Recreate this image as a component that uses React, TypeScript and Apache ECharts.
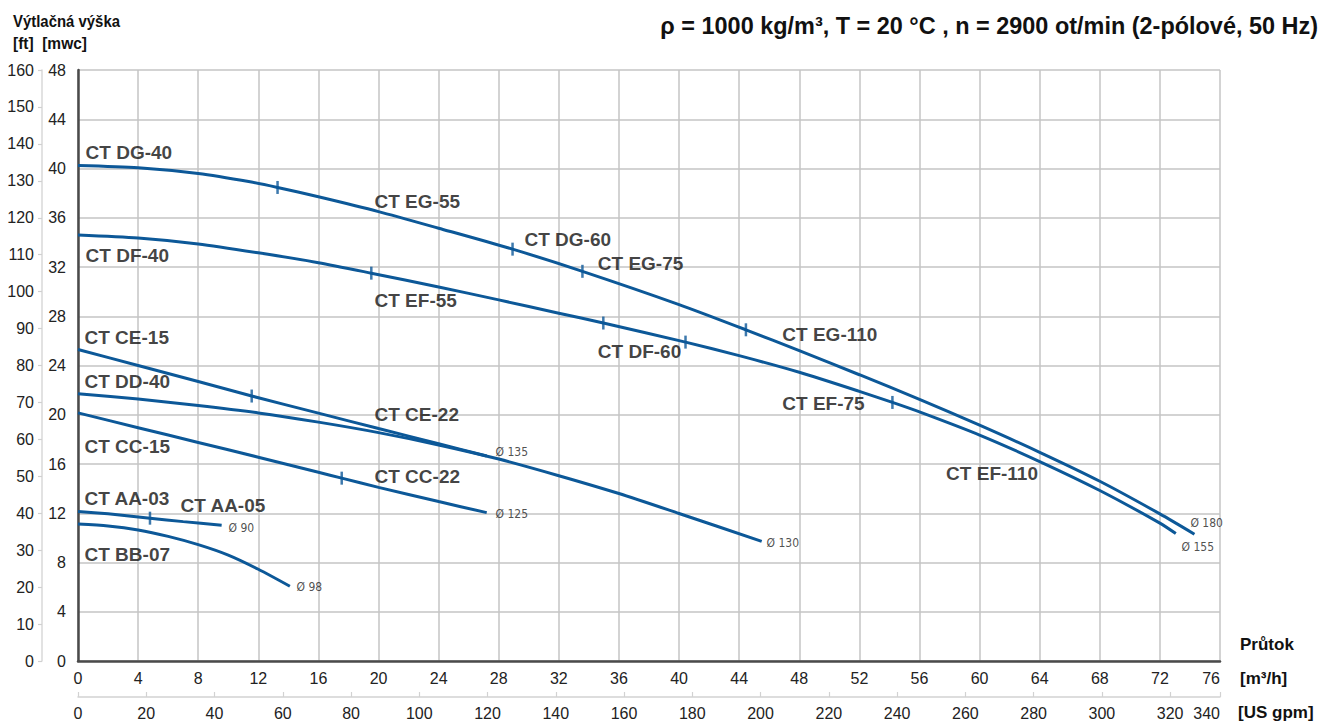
import React, { useEffect, useRef } from "react";
import * as echarts from "echarts";

// ---------- DATA (flow [m³/h], head [m]) ----------
const curveD180: [number, number][] = [
  [0, 40.25], [4, 40.07], [8, 39.6], [11.45, 38.92], [13.28, 38.46], [16, 37.7],
  [20, 36.5], [24, 35.15], [28.92, 33.45], [33.57, 31.65], [40, 28.95], [44.45, 26.9],
  [48, 25.2], [52, 23.25], [56, 21.25], [60, 19.15], [64, 16.95], [68, 14.6],
  [72, 11.95], [74.3, 10.3],
];
const curveD155: [number, number][] = [
  [0, 34.6], [4, 34.35], [8, 33.87], [12, 33.15], [16, 32.35], [19.52, 31.5],
  [24, 30.38], [28, 29.33], [32, 28.25], [34.96, 27.45], [40.43, 25.9], [44, 24.8],
  [48, 23.45], [52, 21.9], [54.2, 21.0], [56, 20.23], [60, 18.35], [64, 16.2],
  [68, 13.85], [72, 11.2], [73.06, 10.35],
];
const curveD135: [number, number][] = [
  [0, 25.3], [4, 24.0], [8, 22.7], [11.56, 21.52], [16, 20.13], [20, 18.88],
  [24, 17.65], [27.2, 16.65],
];
const curveD130: [number, number][] = [
  [0, 21.7], [4, 21.27], [8, 20.75], [12, 20.15], [16, 19.4], [20, 18.55],
  [24, 17.55], [28, 16.4], [32, 15.05], [36, 13.6], [40, 11.98], [45.5, 9.72],
];
const curveD125: [number, number][] = [
  [0, 20.15], [4, 18.95], [8, 17.75], [12, 16.55], [16, 15.33], [17.55, 14.85],
  [20, 14.1], [24, 12.95], [27.2, 12.05],
];
const curveD90: [number, number][] = [
  [0, 12.15], [2, 11.95], [4.79, 11.6], [7, 11.32], [9.56, 11.02],
];
const curveD98: [number, number][] = [
  [0, 11.12], [2, 10.96], [4, 10.64], [6, 10.12], [8, 9.45], [10, 8.6],
  [12, 7.45], [14.1, 6.07],
];

// model boundary marks on the curves
const boundaryTicks: [number, number][] = [
  [13.28, 38.46], [28.92, 33.45], [33.57, 31.65], [44.45, 26.9],
  [19.52, 31.5], [34.96, 27.45], [40.43, 25.9], [54.2, 21.0],
  [11.56, 21.52], [17.55, 14.85], [4.79, 11.6],
];

// model names, anchored at [flow, head] (left edge, middle of text)
const modelLabels: [string, number, number][] = [
  ["CT DG-40", 0.47, 41.26],
  ["CT EG-55", 19.7, 37.35],
  ["CT DG-60", 29.68, 34.27],
  ["CT EG-75", 34.56, 32.3],
  ["CT EG-110", 46.84, 26.53],
  ["CT DF-40", 0.47, 32.97],
  ["CT EF-55", 19.7, 29.24],
  ["CT DF-60", 34.56, 25.15],
  ["CT EF-75", 46.84, 20.93],
  ["CT EF-110", 57.74, 15.2],
  ["CT CE-15", 0.4, 26.26],
  ["CT DD-40", 0.4, 22.74],
  ["CT CE-22", 19.7, 19.98],
  ["CT CC-15", 0.4, 17.4],
  ["CT CC-22", 19.7, 14.97],
  ["CT AA-03", 0.4, 13.21],
  ["CT AA-05", 6.79, 12.59],
  ["CT BB-07", 0.4, 8.67],
];

// impeller diameters at curve ends
const diameterLabels: [string, number, number][] = [
  ["Ø 135", 27.75, 16.95],
  ["Ø 125", 27.75, 11.91],
  ["Ø 90", 9.98, 10.78],
  ["Ø 98", 14.51, 6.03],
  ["Ø 130", 45.79, 9.56],
  ["Ø 180", 74.0, 11.18],
  ["Ø 155", 73.41, 9.23],
];

const titleText = "ρ = 1000 kg/m³, T = 20 °C , n = 2900 ot/min (2-pólové, 50 Hz)";
const yTitle1 = "Výtlačná výška";
const yTitle2 = "[ft]  [mwc]";
const xTitle = "Průtok";
const xUnitM3h = "[m³/h]";
const xUnitGpm = "[US gpm]";

const FLOW_MAX = 76;
const HEAD_MAX = 48;
const FT_MAX = 160;
const GPM_PER_M3H = 4.4029;

// ---------- STYLE ----------
const BLUE = "#0c5898";
const FONT = "'Liberation Sans', Arial, sans-serif";
const NARROW = "'Liberation Sans Narrow', 'DejaVu Sans Condensed', 'Roboto Condensed', 'Liberation Sans', sans-serif";

function fitScale(text: string, font: string, target: number): number {
  const ctx = document.createElement("canvas").getContext("2d");
  if (!ctx) return 1;
  ctx.font = font;
  const w = ctx.measureText(text).width;
  return w > 0 ? target / w : 1;
}

export default function App() {
  const ref = useRef<HTMLDivElement>(null);

  useEffect(() => {
    if (!ref.current) return;
    const chart = echarts.init(ref.current, null, { renderer: "svg" });

    const titleScale = fitScale(titleText, "bold 24px 'Liberation Sans'", 658);
    const y1Scale = fitScale(yTitle1, "bold 17px 'Liberation Sans'", 107);
    const y2Scale = fitScale(yTitle2, "bold 17px 'Liberation Sans'", 74);

    const curves = [curveD180, curveD155, curveD135, curveD130, curveD125, curveD90, curveD98];

    const axisLabelStyle = { fontSize: 16, color: "#222", fontFamily: FONT };

    const option: any = {
      animation: false,
      backgroundColor: "#fff",
      textStyle: { fontFamily: FONT },
      grid: { left: 78, top: 70, width: 1142, height: 591, show: false },
      xAxis: [
        {
          type: "value",
          min: 0,
          max: FLOW_MAX,
          interval: 4,
          position: "bottom",
          axisLine: { show: true, onZero: false, lineStyle: { color: "#4a4a4a", width: 2.5 } },
          axisTick: { show: false },
          splitLine: { show: true, lineStyle: { color: "#c4c4c4", width: 1.5 } },
          axisLabel: { ...axisLabelStyle, margin: 9, alignMaxLabel: "right" },
        },
        {
          type: "value",
          min: 0,
          max: FLOW_MAX * GPM_PER_M3H,
          interval: 20,
          position: "bottom",
          offset: 36,
          axisLine: { show: true, onZero: false, lineStyle: { color: "#d2d2d2", width: 1.5 } },
          axisTick: { show: true, inside: true, length: 5, lineStyle: { color: "#d2d2d2", width: 1.2 } },
          splitLine: { show: false },
          axisLabel: {
            ...axisLabelStyle,
            margin: 8,
            alignMaxLabel: "right",
            formatter: (v: number) => (v > 330 ? "340" : String(v)),
          },
        },
      ],
      yAxis: [
        {
          type: "value",
          min: 0,
          max: HEAD_MAX,
          interval: 4,
          position: "left",
          axisLine: { show: true, onZero: false, lineStyle: { color: "#4a4a4a", width: 2.5 } },
          axisTick: { show: false },
          splitLine: { show: true, lineStyle: { color: "#c4c4c4", width: 1.5 } },
          axisLabel: { ...axisLabelStyle, margin: 12 },
        },
        {
          type: "value",
          min: 0,
          max: FT_MAX,
          interval: 10,
          position: "left",
          offset: 36,
          axisLine: { show: true, onZero: false, lineStyle: { color: "#d8d8d8", width: 1.5 } },
          axisTick: { show: true, length: 4, lineStyle: { color: "#d0d0d0", width: 1.2 } },
          splitLine: { show: false },
          axisLabel: { ...axisLabelStyle, margin: 8 },
        },
      ],
      series: [
        ...curves.map((c) => ({
          type: "line",
          data: c,
          xAxisIndex: 0,
          yAxisIndex: 0,
          showSymbol: false,
          symbol: "none",
          smooth: 0.25,
          silent: true,
          lineStyle: { color: BLUE, width: 3 },
          z: 3,
        })),
        {
          type: "scatter",
          data: boundaryTicks,
          xAxisIndex: 0,
          yAxisIndex: 0,
          symbol: "rect",
          symbolSize: [2.5, 13],
          itemStyle: { color: BLUE },
          silent: true,
          z: 4,
        },
        {
          type: "scatter",
          data: modelLabels.map(([n, q, h]) => ({ name: n, value: [q, h] })),
          xAxisIndex: 0,
          yAxisIndex: 0,
          symbolSize: 1,
          itemStyle: { color: "rgba(0,0,0,0)" },
          silent: true,
          label: {
            show: true,
            position: "right",
            distance: 0,
            formatter: "{b}",
            fontSize: 19,
            fontWeight: "bold",
            color: "#111",
            fontFamily: FONT,
          },
          z: 5,
        },
        {
          type: "scatter",
          data: diameterLabels.map(([n, q, h]) => ({ name: n, value: [q, h] })),
          xAxisIndex: 0,
          yAxisIndex: 0,
          symbolSize: 1,
          itemStyle: { color: "rgba(0,0,0,0)" },
          silent: true,
          label: {
            show: true,
            position: "right",
            distance: 0,
            formatter: "{b}",
            fontSize: 12,
            color: "#222",
            fontFamily: NARROW,
          },
          z: 5,
        },
      ],
      graphic: [
        {
          type: "text",
          x: 1318,
          y: 26,
          scaleX: titleScale,
          style: {
            text: titleText,
            fontSize: 24,
            fontWeight: "bold",
            fontFamily: "Liberation Sans",
            fill: "#111",
            align: "right",
            textAlign: "right",
            verticalAlign: "middle",
            textVerticalAlign: "middle",
          },
        },
        {
          type: "text",
          x: 13,
          y: 21.5,
          scaleX: y1Scale,
          style: {
            text: yTitle1,
            fontSize: 17,
            fontWeight: "bold",
            fontFamily: "Liberation Sans",
            fill: "#111",
            align: "left",
            verticalAlign: "middle",
          },
        },
        {
          type: "text",
          x: 13,
          y: 43,
          scaleX: y2Scale,
          style: {
            text: yTitle2,
            fontSize: 17,
            fontWeight: "bold",
            fontFamily: "Liberation Sans",
            fill: "#111",
            align: "left",
            verticalAlign: "middle",
          },
        },
        {
          type: "text",
          x: 1240,
          y: 644,
          style: {
            text: xTitle,
            fontSize: 17,
            fontWeight: "bold",
            fontFamily: "Liberation Sans",
            fill: "#111",
            align: "left",
            verticalAlign: "middle",
          },
        },
        {
          type: "text",
          x: 1240,
          y: 678,
          style: {
            text: xUnitM3h,
            fontSize: 17,
            fontWeight: "bold",
            fontFamily: "Liberation Sans",
            fill: "#111",
            align: "left",
            verticalAlign: "middle",
          },
        },
        {
          type: "text",
          x: 1238,
          y: 712,
          style: {
            text: xUnitGpm,
            fontSize: 17,
            fontWeight: "bold",
            fontFamily: "Liberation Sans",
            fill: "#111",
            align: "left",
            verticalAlign: "middle",
          },
        },
      ],
    };

    chart.setOption(option);
    return () => chart.dispose();
  }, []);

  return (
    <div
      ref={ref}
      style={{ position: "fixed", left: 0, top: 0, width: 1326, height: 722, background: "#fff" }}
    />
  );
}
